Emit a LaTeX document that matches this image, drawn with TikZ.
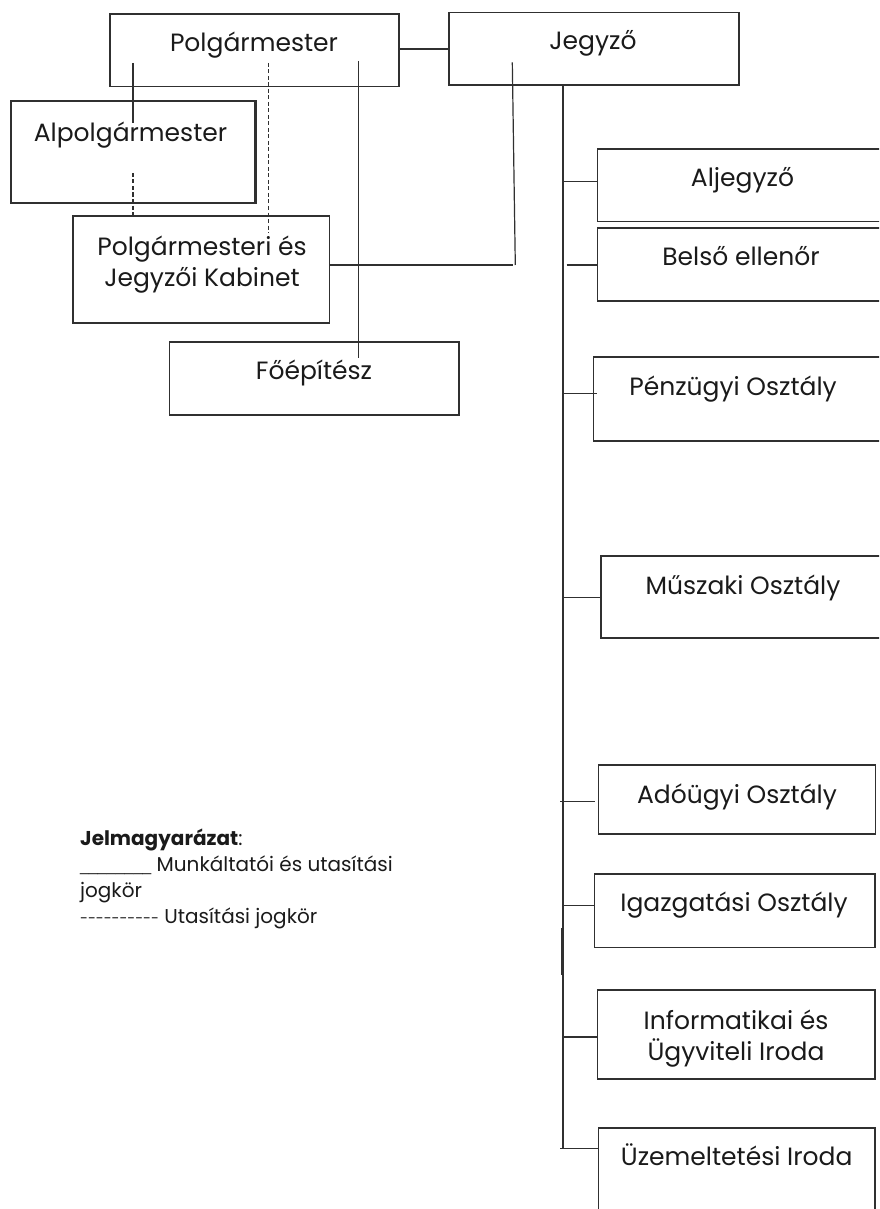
\documentclass[tikz,border=0pt]{standalone}
\usepackage{fontspec}
\setmainfont{Poppins}
\newfontfamily\rulefont{Liberation Sans}
\usetikzlibrary{calc}
\definecolor{lc}{HTML}{303030}
\definecolor{tc}{HTML}{1A1A1A}
\newcommand\hy{\hbox{-}}
\begin{document}
\begin{tikzpicture}[x=1pt,y=-1pt,
  box/.style={draw=lc, line width=1.3pt, inner sep=0pt, outer sep=0pt, anchor=north west},
  thickbox/.style={box, line width=2.3pt},
  lbl/.style={anchor=base, inner sep=0pt, text=tc, font=\fontsize{25}{31.5}\selectfont, align=center},
  conn/.style={draw=lc, line width=1.2pt},
  thickconn/.style={draw=lc, line width=2.3pt},
  dconn/.style={draw=lc, line width=1.3pt, dash pattern=on 4pt off 2.5pt},
  legend/.style={anchor=base west, inner sep=0pt, text=tc, font=\fontsize{20}{26}\selectfont, align=left}]
\useasboundingbox (0,0) rectangle (879,1209);
\clip (0,0) rectangle (879,1209);
% boxes
\node[box, minimum width=289pt, minimum height=72.5pt] (polg) at (110,14) {};
\node[box, minimum width=290pt, minimum height=72.5pt] (jeg) at (449,12.5) {};
\node[thickbox, minimum width=244.5pt, minimum height=102pt] (alp) at (11,101) {};
\node[box, minimum width=256.5pt, minimum height=107pt] (kab) at (73,216) {};
\node[box, minimum width=289.5pt, minimum height=73pt] (foe) at (169.5,342) {};
\node[box, minimum width=290pt, minimum height=72.7pt] (alj) at (597.3,149) {};
\node[box, minimum width=290pt, minimum height=73pt] (bel) at (597.7,228) {};
\node[box, minimum width=290pt, minimum height=84pt] (pen) at (593.3,357) {};
\node[box, minimum width=290pt, minimum height=82pt] (mus) at (601,556) {};
\node[box, minimum width=277.4pt, minimum height=69pt] (ado) at (598.3,765) {};
\node[box, minimum width=280.7pt, minimum height=73.7pt] (iga) at (594.3,874) {};
\node[box, minimum width=277.7pt, minimum height=89pt] (inf) at (597.3,990) {};
\node[box, minimum width=276.7pt, minimum height=90pt] (uze) at (598.3,1128) {};
% labels
\node[lbl] (polgT) at (254,51.7) {Polgármester};
\node[lbl] (jegT) at (593,50) {Jegyző};
\node[lbl] (alpT) at (130.5,141.7) {Alpolgármester};
\node[lbl] (kabT) at (202,286.5) {Polgármesteri és\\Jegyzői Kabinet};
\node[lbl] (foeT) at (314,379) {Főépítész};
\node[lbl] (aljT) at (742.5,186) {Aljegyző};
\node[lbl] (belT) at (741,265) {Belső ellenőr};
\node[lbl] (penT) at (733,395) {Pénzügyi Osztály};
\node[lbl] (musT) at (743,594) {Műszaki Osztály};
\node[lbl] (adoT) at (737,803.3) {Adóügyi Osztály};
\node[lbl] (igaT) at (734,911.7) {Igazgatási Osztály};
\node[lbl] (infT) at (736,1060.5) {Informatikai és\\Ügyviteli Iroda};
\node[lbl] (uzeT) at (736.7,1165) {Üzemeltetési Iroda};
% legend
\node[legend] (leg) at (80,923) {\textbf{Jelmagyarázat}:\\{\rulefont\fontsize{16}{26}\selectfont\_\_\_\_\_\_\_\_} Munkáltatói és utasítási\\jogkör\\{\fontsize{14.3}{26}\selectfont\hy\hy\hy\hy\hy\hy\hy\hy\hy\hy}\ Utasítási jogkör};
% connector coordinates
\coordinate (pA) at (133,63);
\coordinate (aA) at (133,123);
\coordinate (aB) at (133,173);
\coordinate (pB) at (268.3,63);
\coordinate (kB) at (268.3,233);
\coordinate (pC) at (358.6,61);
\coordinate (fC) at (358.6,358);
\coordinate (jD) at (512.3,62.3);
\coordinate (jE) at (515.3,265);
\coordinate (kE) at (513.3,265);
\coordinate (tr) at (563,85);
\coordinate (tb) at (563,1148.3);
\coordinate (th1) at (562.5,928);
\coordinate (th2) at (562.5,975);
% connectors
\draw[conn] (polg.east |- 0,49) -- (jeg.west |- 0,49);
\draw[conn] (pA) -- (aA);
\draw[dconn] (aB) -- (aB |- kab.north);
\draw[dconn] (pB) -- (kB);
\draw[conn] (pC) -- (fC);
\draw[conn] (kab.east |- kE) -- (kE);
\draw[conn] (jD) -- (jE);
\draw[conn] (tr) -- (tb);
\draw[thickconn] (th1) -- (th2);
\draw[conn] (tr |- 0,181.7) -- (alj.west |- 0,181.7);
\draw[conn] (566.7,265) -- (bel.west |- 0,265);
\draw[conn] (tr |- 0,393.3) -- (596.7,393.3);
\draw[conn] (tr |- 0,597.3) -- (mus.west |- 0,597.3);
\draw[conn] (560,801.7) -- (595,801.7);
\draw[conn] (tr |- 0,905.7) -- (iga.west |- 0,905.7);
\draw[thickconn] (tr |- 0,1037.3) -- (inf.west |- 0,1037.3);
\draw[conn] (560,1148.3) -- (uze.west |- 0,1148.3);
\end{tikzpicture}
\end{document}
